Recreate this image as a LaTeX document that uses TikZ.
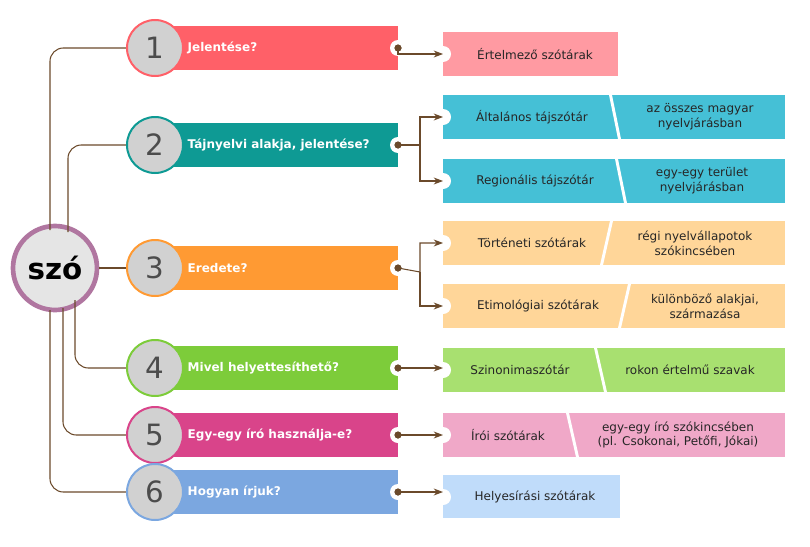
\documentclass[tikz,border=0pt]{standalone}
\usepackage{fontspec}
\setmainfont{DejaVu Sans}
\usetikzlibrary{arrows.meta}
\definecolor{brn}{HTML}{6B4A2B}
\definecolor{cA}{HTML}{FF6068}\definecolor{lA}{HTML}{FF9AA2}
\definecolor{cB}{HTML}{0E9A94}\definecolor{lB}{HTML}{45C0D6}
\definecolor{cC}{HTML}{FF9A33}\definecolor{lC}{HTML}{FFD699}
\definecolor{cD}{HTML}{7DCC3A}\definecolor{lD}{HTML}{A8E070}
\definecolor{cE}{HTML}{D9448A}\definecolor{lE}{HTML}{F0A8C8}
\definecolor{cF}{HTML}{7BA7E0}\definecolor{lF}{HTML}{C0DCFA}
\tikzset{
  link/.style={draw=brn,thick,rounded corners=10pt},
  arr/.style={draw=brn,thick,-{Stealth[length=7pt]}},
  num/.style={circle,draw=#1,fill=black!18,line width=1.5pt,minimum size=56*0.75pt,inner sep=0pt,font=\fontsize{22}{22}\selectfont,text=black!70},
  bartxt/.style={anchor=west,text=white,font=\small\bfseries},
  boxtxt/.style={align=center,font=\small,text=black!85},
  dot/.style={circle,fill=white,minimum size=16*0.75pt,inner sep=0pt},
}
\newcommand\barrow[4]{% y, colour, text, name
  \fill[#2] (150,#1-22) rectangle (398,#1+22);
  \node[num=#2] (n#4) at (155,#1) {#4};
  \node[bartxt] (t#4) at (183,#1) {#3};
  \node[dot] (d#4) at (398,#1) {};
  \fill[brn] (d#4) circle (3.5);
}
\newcommand\rbox[6]{% ytop, ybot, colour, split, left text, right text
  \fill[#3] (443,#1) rectangle (785,#2);
  \fill[white] (443,{(#1+#2)/2}) circle (8);
  \ifx\relax#6\relax\else
  \fill[white] (#4-2,#1) -- (#4+1,#1) -- (#4+11,#2) -- (#4+8,#2) -- cycle;
  \fi
}
\begin{document}
\begin{tikzpicture}[x=0.75pt,y=-0.75pt]
\useasboundingbox (0,0) rectangle (810,546);
% links from the centre
\node[circle,draw=purple!45!brown!60!white,draw={rgb,255:red,176;green,118;blue,160},line width=3.5pt,fill=black!10,minimum size=84*0.75pt,font=\fontsize{22}{22}\selectfont\bfseries] (szo) at (55,268) {szó};
\draw[link] (50,230) |- (130,48);
\draw[link] (68,232) |- (130,145);
\draw[link] (szo.east) -- (130,268);
\draw[link] (75,300) |- (130,368);
\draw[link] (63,308) |- (130,435);
\draw[link] (50,310) |- (130,492);
% bars
\barrow{48}{cA}{Jelentése?}{1}
\barrow{145}{cB}{Tájnyelvi alakja, jelentése?}{2}
\barrow{268}{cC}{Eredete?}{3}
\barrow{368}{cD}{Mivel helyettesíthető?}{4}
\barrow{435}{cE}{Egy-egy író használja-e?}{5}
\barrow{492}{cF}{Hogyan írjuk?}{6}
% right boxes
\fill[lA] (443,32) rectangle (618,76); \fill[white] (443,54) circle (8);
\node[boxtxt] (r1) at (535,54) {Értelmező szótárak};
\fill[lB] (443,95) rectangle (785,139); \fill[white] (443,117) circle (8);
\fill[white] (609,95) -- (612,95) -- (621,139) -- (618,139) -- cycle;
\node[boxtxt] (r2a) at (532,117) {Általános tájszótár};
\node[boxtxt] (s2a) at (700,117) {az összes magyar\\nyelvjárásban};
\fill[lB] (443,159) rectangle (785,203); \fill[white] (443,181) circle (8);
\fill[white] (615,159) -- (618,159) -- (627,203) -- (624,203) -- cycle;
\node[boxtxt] (r2b) at (535,181) {Regionális tájszótár};
\node[boxtxt] (s2b) at (702,181) {egy-egy terület\\nyelvjárásban};
\fill[lC] (443,221) rectangle (785,265); \fill[white] (443,243) circle (8);
\fill[white] (610,221) -- (613,221) -- (603,265) -- (600,265) -- cycle;
\node[boxtxt] (r3a) at (532,243) {Történeti szótárak};
\node[boxtxt] (s3a) at (695,243) {régi nyelvállapotok\\szókincsében};
\fill[lC] (443,284) rectangle (785,328); \fill[white] (443,306) circle (8);
\fill[white] (628,284) -- (631,284) -- (621,328) -- (618,328) -- cycle;
\node[boxtxt] (r3b) at (538,306) {Etimológiai szótárak};
\node[boxtxt] (s3b) at (705,306) {különböző alakjai,\\származása};
\fill[lD] (443,348) rectangle (785,392); \fill[white] (443,370) circle (8);
\fill[white] (594,348) -- (597,348) -- (607,392) -- (604,392) -- cycle;
\node[boxtxt] (r4) at (520,370) {Szinonimaszótár};
\node[boxtxt] (s4) at (690,370) {rokon értelmű szavak};
\fill[lE] (443,413) rectangle (785,457); \fill[white] (443,435) circle (8);
\fill[white] (566,413) -- (569,413) -- (579,457) -- (576,457) -- cycle;
\node[boxtxt] (r5) at (508,435) {Írói szótárak};
\node[boxtxt] (s5) at (678,435) {egy-egy író szókincsében\\(pl. Csokonai, Petőfi, Jókai)};
\fill[lF] (443,475) rectangle (620,518); \fill[white] (443,497) circle (8);
\node[boxtxt] (r6) at (535,497) {Helyesírási szótárak};
% arrows
\coordinate (e1) at (443,54); \coordinate (e2a) at (443,117); \coordinate (e2b) at (443,181);
\coordinate (e3a) at (443,243); \coordinate (e3b) at (443,306); \coordinate (e4) at (443,370);
\coordinate (e5) at (443,435); \coordinate (e6) at (443,497);
\draw[arr] (d1.center) -- (e1 -| 398,0) |- (e1);
\draw[arr] (d2.center) -- (420,145) |- (e2a);
\draw[arr] (420,145) |- (e2b);
\draw[arr] (d3.center) -- (420,272) |- (e3a);
\draw[arr] (420,272) |- (e3b);
\draw[arr] (d4.center) -- (e4 |- d4);
\draw[arr] (d5.center) -- (e5);
\draw[arr] (d6.center) -- (e6 |- d6);
\fill[brn] (d1) circle (3.5) (d2) circle (3.5) (d3) circle (3.5) (d4) circle (3.5) (d5) circle (3.5) (d6) circle (3.5);
\end{tikzpicture}
\end{document}
